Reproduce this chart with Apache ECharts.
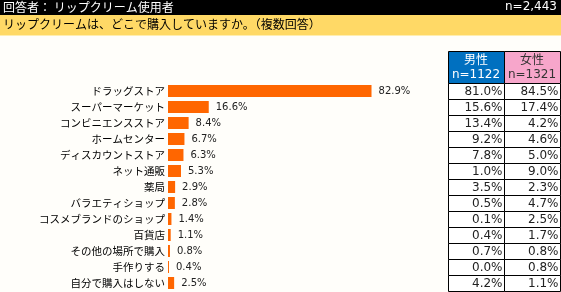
<!DOCTYPE html>
<html><head><meta charset="utf-8">
<script src="https://cdn.jsdelivr.net/npm/echarts@6/dist/echarts.min.js"></script>
<style>html,body{margin:0;padding:0;background:#fffefa}#c{width:561px;height:292px}</style>
</head><body><div id="c"></div>
<script>
var categories = ['ドラッグストア','スーパーマーケット','コンビニエンスストア','ホームセンター','ディスカウントストア','ネット通販','薬局','バラエティショップ','コスメブランドのショップ','百貨店','その他の場所で購入','手作りする','自分で購入はしない'];
var totalValues = [82.9,16.6,8.4,6.7,6.3,5.3,2.9,2.8,1.4,1.1,0.8,0.4,2.5];
var maleValues = [81.0,15.6,13.4,9.2,7.8,1.0,3.5,0.5,0.1,0.4,0.7,0.0,4.2];
var femaleValues = [84.5,17.4,4.2,4.6,5.0,9.0,2.3,4.7,2.5,1.7,0.8,0.8,1.1];
var columns = ['男性','女性'];
var columnN = ['n=1122','n=1321'];
var titleText = '回答者： リップクリーム使用者';
var totalN = 'n=2,443';
var questionText = 'リップクリームは、どこで購入していますか。（複数回答）';

var tableData = [];
for (var i = 0; i < categories.length; i++) {
  tableData.push([0, i, maleValues[i]]);
  tableData.push([1, i, femaleValues[i]]);
}
var jp = '"Noto Sans CJK JP", sans-serif';
var chart = echarts.init(document.getElementById('c'), null, {renderer:'canvas'});
chart.setOption({
  backgroundColor: '#fffefa',
  animation: false,
  graphic: [
    {type:'rect', left:0, top:0, shape:{width:561, height:15}, style:{fill:'#000'}},
    {type:'text', left:3, top:1, style:{text:titleText, fill:'#fff', font:'12px ' + jp}},
    {type:'text', right:4, top:1, style:{text:totalN, fill:'#fff', font:'12px "DejaVu Sans", sans-serif'}},
    {type:'rect', left:0, top:15, shape:{width:561, height:20}, style:{fill:'#FFD966'}},
    {type:'text', left:3, top:18, style:{text:questionText, fill:'#000', font:'12px ' + jp}},
    {type:'rect', left:0, top:35, shape:{width:561, height:1}, style:{fill:'#ffeeb0'}},
    {type:'rect', left:448, top:51, shape:{width:56, height:32}, style:{fill:'#0070C0', stroke:'#000', lineWidth:1}},
    {type:'rect', left:504, top:51, shape:{width:56, height:32}, style:{fill:'#F7A6CB', stroke:'#000', lineWidth:1}},
    {type:'text', x:476, y:59, style:{text:columns[0], fill:'#fff', font:'12px ' + jp, align:'center', verticalAlign:'middle'}},
    {type:'text', x:476, y:75, style:{text:columnN[0], fill:'#fff', font:'12px "DejaVu Sans", sans-serif', align:'center', verticalAlign:'middle'}},
    {type:'text', x:532, y:59, style:{text:columns[1], fill:'#333', font:'12px ' + jp, align:'center', verticalAlign:'middle'}},
    {type:'text', x:532, y:75, style:{text:columnN[1], fill:'#333', font:'12px "DejaVu Sans", sans-serif', align:'center', verticalAlign:'middle'}}
  ],
  grid: [
    {left:168, top:83, width:245.5, height:208, containLabel:false},
    {left:448, top:83, width:112, height:208, containLabel:false}
  ],
  xAxis: [
    {type:'value', gridIndex:0, min:0, max:100, show:false},
    {type:'category', gridIndex:1, data:columns, show:false}
  ],
  yAxis: [
    {type:'category', gridIndex:0, data:categories, inverse:true,
     axisLine:{show:false}, axisTick:{show:false},
     axisLabel:{margin:3, color:'#000', fontSize:10.5, fontFamily:'"Noto Sans CJK JP", sans-serif'}},
    {type:'category', gridIndex:1, data:categories, inverse:true, show:false}
  ],
  series: [
    {type:'bar', xAxisIndex:0, yAxisIndex:0, data:totalValues, barWidth:12,
     itemStyle:{color:'#FF6600'},
     label:{show:true, position:'right', distance:7, color:'#222', fontSize:10, fontFamily:'"DejaVu Sans", sans-serif',
       formatter:function(p){return p.value.toFixed(1) + '%';}}},
    {type:'custom', xAxisIndex:1, yAxisIndex:1, data:tableData,
     renderItem:function(params, api){
       var c = api.coord([api.value(0), api.value(1)]);
       var s = api.size([1,1]);
       var x0 = Math.round(c[0] - s[0]/2) + 0.5, y0 = Math.round(c[1] - s[1]/2) + 0.5;
       return {type:'group', children:[
         {type:'rect', shape:{x:x0, y:y0, width:s[0], height:s[1]}, style:{fill:'#fff', stroke:'#000', lineWidth:1}},
         {type:'text', style:{x:x0 + s[0] - 2, y:c[1] + 0.5, text:api.value(2).toFixed(1) + '%', fill:'#222',
            font:'12px "DejaVu Sans", sans-serif', align:'right', verticalAlign:'middle'}}
       ]};
     }}
  ]
});
</script></body></html>
